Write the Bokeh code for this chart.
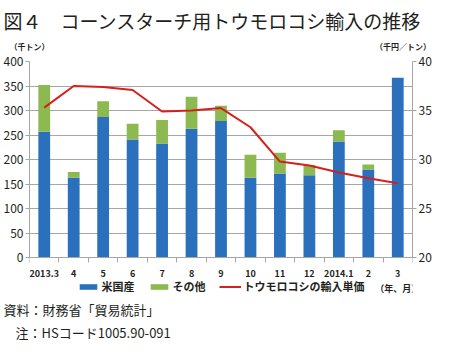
from bokeh.plotting import figure
from bokeh.models import (Range1d, LinearAxis, FixedTicker, Legend, LegendItem,
                          ColumnDataSource, Title)
from bokeh.embed import file_html
from bokeh.resources import INLINE

months = ["2013.3", "4", "5", "6", "7", "8", "9", "10", "11", "12", "2014.1", "2", "3"]
x_unit = "（年、月）"
us = [257, 163, 287, 241, 233, 263, 279, 163, 172, 168, 237, 180, 367]
other = [95, 12, 32, 32, 48, 65, 31, 47, 42, 21, 23, 10, 0]
price = [35.3, 37.5, 37.4, 37.1, 34.9, 35.0, 35.25, 33.3, 29.8, 29.4, 28.7, 28.1, 27.6]
left_ticks = [0, 50, 100, 150, 200, 250, 300, 350, 400]
right_ticks = [20, 25, 30, 35, 40]
unit_labels = {0: "（千トン）", 97.5: "（千円／トン）"}

FONT = "Noto Sans CJK JP"
BLUE = "#2a70bd"
GREEN = "#8cb950"
RED = "#d7201c"
GRAY = "#a6a6a6"
TXT = "#231f20"

# layout: the frame runs below the zero line so that the legend sits inside it
H, TOP, BOTTOM = 345, 53, 50
AXIS_PX = 203                     # pixels between 0 and 400 on the left axis
frame_px = H - TOP - BOTTOM
below_units = (frame_px - AXIS_PX) * 400 / AXIS_PX
y_lo = -below_units
p_lo = 20 - below_units * 20 / 400

idx = list(range(len(months)))
src = ColumnDataSource(dict(x=idx, us=us, other=other, price=price))

p = figure(width=434, height=H, output_backend="svg", toolbar_location=None,
           x_range=Range1d(-0.5, len(months) - 0.5), y_range=Range1d(y_lo, 400),
           min_border_left=26, min_border_right=15, min_border_top=TOP,
           min_border_bottom=BOTTOM)
p.title = None
p.extra_y_ranges = {"price": Range1d(p_lo, 40)}
p.extra_x_ranges = {"units": Range1d(0, 100)}
p.outline_line_color = None

bars = p.vbar_stack(["us", "other"], x="x", width=0.4, source=src,
                    color=[BLUE, GREEN], line_color=None)
line = p.line("x", "price", source=src, y_range_name="price",
              line_color=RED, line_width=2)

tick_text = {i: m for i, m in enumerate(months)}
tick_text[len(months) - 1] = months[-1] + "\n" + x_unit

xa = p.xaxis[0]
xa.fixed_location = 0
xa.ticker = FixedTicker(ticks=idx, minor_ticks=[i - 0.5 for i in range(len(months) + 1)])
xa.major_label_overrides = tick_text
xa.major_tick_line_color = None
xa.minor_tick_line_color = GRAY
xa.minor_tick_out = 5
xa.minor_tick_in = 0
xa.axis_line_color = GRAY
xa.major_label_text_font = FONT
xa.major_label_text_font_size = "9px"
xa.major_label_text_font_style = "bold"
xa.major_label_text_color = TXT
xa.major_label_standoff = 3

ya = p.yaxis[0]
ya.bounds = (0, 400)
ya.ticker = FixedTicker(ticks=left_ticks)
ya.major_tick_out = 4
ya.major_tick_in = 0
ya.major_tick_line_color = GRAY
ya.minor_tick_line_color = None
ya.axis_line_color = GRAY
ya.major_label_text_font = FONT
ya.major_label_text_font_size = "12px"
ya.major_label_text_color = TXT
ya.major_label_standoff = 2

ra = LinearAxis(y_range_name="price", ticker=FixedTicker(ticks=right_ticks), bounds=(20, 40))
ra.major_tick_out = 4
ra.major_tick_in = 0
ra.major_tick_line_color = GRAY
ra.minor_tick_line_color = None
ra.axis_line_color = GRAY
ra.major_label_text_font = FONT
ra.major_label_text_font_size = "12px"
ra.major_label_text_color = TXT
ra.major_label_standoff = 2
p.add_layout(ra, "right")

# unit captions above the frame
ua = LinearAxis(x_range_name="units", ticker=FixedTicker(ticks=list(unit_labels.keys())))
ua.major_label_overrides = unit_labels
ua.axis_line_color = None
ua.major_tick_line_color = None
ua.minor_tick_line_color = None
ua.major_tick_out = 0
ua.major_tick_in = 0
ua.major_label_standoff = 10
ua.major_label_text_font = FONT
ua.major_label_text_font_size = "8px"
ua.major_label_text_font_style = "bold"
ua.major_label_text_color = TXT
p.add_layout(ua, "above")

p.add_layout(Title(text="図４　コーンスターチ用トウモロコシ輸入の推移", align="left",
                   offset=-26, standoff=8, text_font=FONT, text_font_size="19px",
                   text_font_style="normal", text_color=TXT), "above")

p.xgrid.visible = False
p.ygrid.ticker = FixedTicker(ticks=left_ticks)
p.ygrid.grid_line_color = GRAY

legend = Legend(items=[LegendItem(label="米国産", renderers=[bars[0]]),
                       LegendItem(label="その他", renderers=[bars[1]]),
                       LegendItem(label="トウモロコシの輸入単価", renderers=[line])],
                orientation="horizontal", location="bottom_center",
                border_line_color=None, background_fill_alpha=0,
                glyph_width=22, glyph_height=7, label_height=12,
                label_standoff=3, spacing=13, padding=2, margin=1,
                label_text_font=FONT, label_text_font_size="11px",
                label_text_font_style="bold", label_text_color=TXT)
p.add_layout(legend)

p.add_layout(Title(text="資料：財務省「貿易統計」", align="left", offset=-26, standoff=4,
                   text_font=FONT, text_font_size="13px", text_font_style="normal",
                   text_color=TXT), "below")
p.add_layout(Title(text="注：HSコード1005.90-091", align="left", offset=-14, standoff=0,
                   text_font=FONT, text_font_size="13px", text_font_style="normal",
                   text_color=TXT), "below")

open("out.html", "w").write(file_html(p, INLINE))
